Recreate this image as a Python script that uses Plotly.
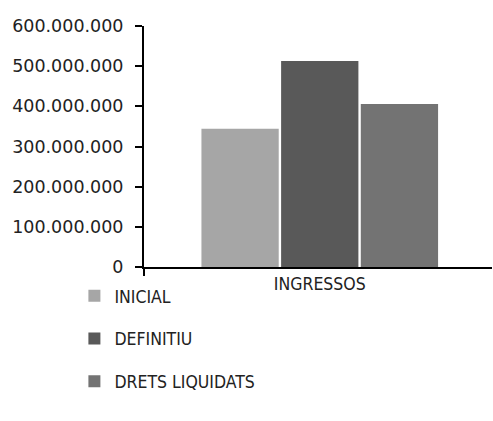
import plotly.graph_objects as go

categories = ["INGRESSOS"]
series_names = ["INICIAL", "DEFINITIU", "DRETS LIQUIDATS"]
values_inicial = [344000000]
values_definitiu = [513000000]
values_drets = [406000000]
colors = ["#a6a6a6", "#595959", "#737373"]
tick_vals = [0, 100000000, 200000000, 300000000, 400000000, 500000000, 600000000]
tick_text = ["0", "100.000.000", "200.000.000", "300.000.000", "400.000.000", "500.000.000", "600.000.000"]

fig = go.Figure()
for i, (name, vals) in enumerate(zip(series_names, [values_inicial, values_definitiu, values_drets])):
    fig.add_trace(go.Bar(x=categories, y=vals, name=name, marker_color=colors[i],
                         marker_line_width=0, legendgroup=f"g{i}"))

fig.update_layout(
    width=493, height=421,
    margin=dict(l=144, r=1, t=26, b=153.5, autoexpand=False),
    paper_bgcolor="white", plot_bgcolor="white",
    barmode="group", bargap=0.32, bargroupgap=0.03,
    font=dict(family="DejaVu Sans", color="#222222"),
    showlegend=True,
    legend=dict(x=-0.2, y=-0.045, xanchor="left", yanchor="top",
                orientation="v", tracegroupgap=17,
                font=dict(family="DejaVu Sans Condensed", size=17.5, color="#222222"),
                itemwidth=30),
)
fig.update_xaxes(range=[-0.5, 0.49],
                 showline=True, linecolor="black", linewidth=2, ticks="outside",
                 tickson="boundaries", ticklen=7, tickcolor="black", tickwidth=2,
                 tickfont=dict(family="DejaVu Sans Condensed", size=17.5, color="#222222"),
                 showgrid=False)
fig.update_yaxes(range=[0, 600000000], tickvals=tick_vals, ticktext=tick_text,
                 showline=True, linecolor="black", linewidth=2, ticks="outside",
                 ticklen=7, tickcolor="black", tickwidth=2, showgrid=False, zeroline=False,
                 ticklabelstandoff=8,
                 tickfont=dict(family="DejaVu Sans", size=17.5, color="#222222"))

fig.write_html("out.html", post_script="document.body.style.margin='0';",
               config={"displayModeBar": False})
